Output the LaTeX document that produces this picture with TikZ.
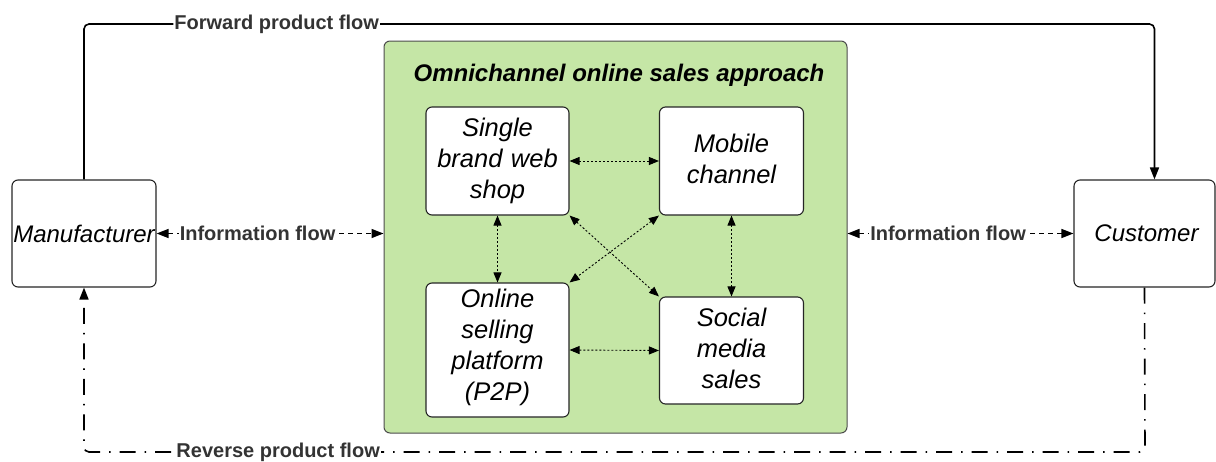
\documentclass[tikz,border=0pt]{standalone}
\usepackage{fontspec}
\setmainfont{Liberation Sans}
\usetikzlibrary{arrows.meta,calc}
\definecolor{panelgreen}{HTML}{C5E6A6}
\definecolor{labelgray}{HTML}{333333}
\tikzset{
  box/.style={draw=black!85, line width=1.1pt, rounded corners=6pt, fill=white,
    align=center, font=\fontsize{25.5}{31}\selectfont\itshape, inner sep=2pt},
  flowlabel/.style={font=\fontsize{20}{24}\selectfont\bfseries, text=labelgray,
    fill=white, inner sep=1pt},
  tip/.style={-{Triangle[length=12pt,width=9pt]}},
  bothtips/.style={{Triangle[length=12pt,width=9pt]}-{Triangle[length=12pt,width=9pt]}},
  smalltips/.style={{Triangle[length=10pt,width=8pt]}-{Triangle[length=10pt,width=8pt]}},
  dotline/.style={smalltips, line width=0.9pt, dash pattern=on 2pt off 2pt},
  infoline/.style={bothtips, line width=1.4pt, dash pattern=on 5pt off 4pt},
  productline/.style={line width=1.6pt, rounded corners=5pt},
  returnline/.style={line width=1.6pt, rounded corners=5pt,
    dash pattern=on 16pt off 9pt on 1.5pt off 9pt},
}
\begin{document}
\begin{tikzpicture}[x=1pt,y=-1pt]
\useasboundingbox (0,0) rectangle (1216,461);

% outer actors
\node[box, font=\fontsize{24}{30}\selectfont\itshape, minimum width=144pt, minimum height=107pt, inner sep=0pt] (manu) at (84,233.5) {Manufacturer};
\node[box, font=\fontsize{24}{30}\selectfont\itshape, minimum width=141pt, minimum height=107pt] (cust) at (1144.5,233.5) {\hspace*{4pt}Customer};

% omnichannel panel
\node[draw=black!70, line width=1pt, fill=panelgreen, rounded corners=6pt,
  minimum width=463pt, minimum height=392pt] (panel) at (615.5,237) {};
\node[font=\fontsize{24}{28}\selectfont\bfseries\itshape] (title) at (619,75)
  {Omnichannel online sales approach};

% sales channels
\node[box, minimum width=143pt, minimum height=108pt, text width=138pt] (web) at (497.5,161)
  {Single\\brand web\\shop};
\node[box, minimum width=144pt, minimum height=108pt, text width=138pt] (mobile) at (731.5,161)
  {Mobile\\channel\vspace*{4pt}};
\node[box, minimum width=143pt, minimum height=134pt, text width=138pt] (p2p) at (497.5,350)
  {Online\\selling\\platform\\(P2P)\vspace*{6pt}};
\node[box, minimum width=144pt, minimum height=107pt, text width=138pt] (social) at (731.5,350.5)
  {Social\\media\\sales\vspace*{4pt}};

% links between channels
\draw[dotline] (web.east) -- (mobile.west);
\draw[dotline] (p2p.east |- 0,350) -- (social.west);
\draw[dotline] (web.south) -- (p2p.north);
\draw[dotline] (mobile.south) -- (social.north);
\draw[dotline] (web.south east) -- (social.north west);
\draw[dotline] (mobile.south west) -- (p2p.north east);

% information flows
\draw[infoline] (manu.east) -- node[flowlabel, pos=0.445] {Information flow} (panel.west |- manu.east);
\draw[infoline] (panel.east |- cust.west) -- node[flowlabel, pos=0.445] {Information flow} (cust.west);

% forward product flow
\coordinate (f1) at (84,24);
\coordinate (f2) at (1154.5,24);
\draw[productline, tip] (manu.north) -- (f1)
  -- node[flowlabel, pos=0.18] {Forward product flow} (f2)
  -- ($(cust.north)+(10,0)$);

% reverse product flow
\coordinate (r1) at (1145,452);
\coordinate (r2) at (84,452);
\draw[returnline, tip] (cust.south) -- (r1)
  -- node[flowlabel, pos=0.817] {Reverse product flow} (r2)
  -- (manu.south);
\end{tikzpicture}
\end{document}
